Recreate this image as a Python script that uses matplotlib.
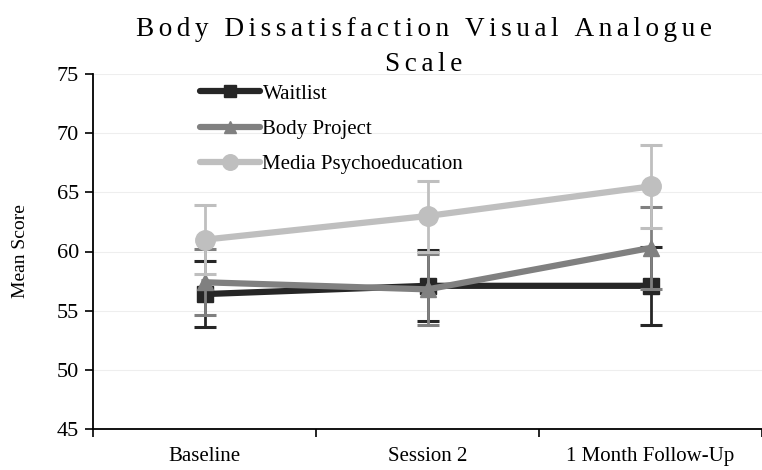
import matplotlib
matplotlib.use("Agg")
import matplotlib.pyplot as plt
from matplotlib.lines import Line2D
import numpy as np

categories = ["Baseline", "Session 2", "1 Month Follow-Up"]
series_names = ["Waitlist", "Body Project", "Media Psychoeducation"]
waitlist = [56.4, 57.1, 57.1]
waitlist_err = [2.8, 3.0, 3.3]
body_project = [57.4, 56.8, 60.3]
body_project_err = [2.8, 3.0, 3.5]
media = [61.0, 63.0, 65.5]
media_err = [2.9, 3.0, 3.5]
y_ticks = [45, 50, 55, 60, 65, 70, 75]
title = "Body Dissatisfaction Visual Analogue\nScale"

plt.rcParams['font.family'] = ['Liberation Serif', 'DejaVu Serif']

fig = plt.figure(figsize=(7.62, 4.70), dpi=100)
W, H = 762, 470
ax = fig.add_axes([93 / W, 1 - 429 / H, (W - 93) / W, (429 - 74) / H])

x = np.arange(len(categories))
colors = ["#262626", "#808080", "#bfbfbf"]
markers = ["s", "^", "o"]
msizes = [11.5, 11.5, 14]
data = [(waitlist, waitlist_err), (body_project, body_project_err), (media, media_err)]

handles = []
for i, ((vals, errs), name) in enumerate(zip(data, series_names)):
    ax.errorbar(x, vals, yerr=errs, color=colors[i], lw=4.5, marker=markers[i],
                markersize=msizes[i], elinewidth=2, capsize=8, capthick=2.2,
                ecolor=colors[i], zorder=3 + i)
    handles.append(Line2D([], [], color=colors[i], lw=4.5, marker=markers[i],
                          markersize=msizes[i] * 0.8, label=name,
                          solid_capstyle="round"))

ax.set_ylim(45, 75)
ax.set_yticks(y_ticks)
ax.set_xlim(-0.5, -0.5 + (W - 93) / 225)
ax.set_xticks([-0.5, 0.5, 1.5, 2.5])
ax.set_xticklabels([])
ax.set_xticks(x, minor=True)
ax.set_xticklabels(categories, minor=True, fontsize=15)
ax.tick_params(axis='x', which='minor', length=0, pad=13)
ax.tick_params(axis='x', which='major', direction='out', length=6, width=1.2)
ax.tick_params(axis='y', direction='out', length=6, width=1.2, labelsize=16, pad=4)
ax.yaxis.grid(True, color="#eeeeee", lw=0.8)
ax.set_axisbelow(True)
for s in ["top", "right"]:
    ax.spines[s].set_visible(False)
for s in ["left", "bottom"]:
    ax.spines[s].set_linewidth(1.3)
    ax.spines[s].set_color("black")

ax.set_ylabel("Mean Score", fontsize=14)
ax.yaxis.set_label_coords((29 - 93) / (W - 93), 0.5)

spaced = "\n".join("\u200a\u200a".join(line) for line in title.split("\n"))
fig.text(((93 + W) / 2 - 4) / W, 1 - 17 / H, spaced, ha="center", va="top", fontsize=19.6,
         linespacing=1.55)

leg = ax.legend(handles=handles, loc="upper left",
                bbox_to_anchor=((200 - 93) / (W - 93), 1.0 - (84 - 74) / (429 - 74)),
                frameon=False, fontsize=15, handlelength=2.9, handletextpad=0.1,
                labelspacing=0.75, borderpad=0, borderaxespad=0)

fig.savefig("out.png", dpi=100)
